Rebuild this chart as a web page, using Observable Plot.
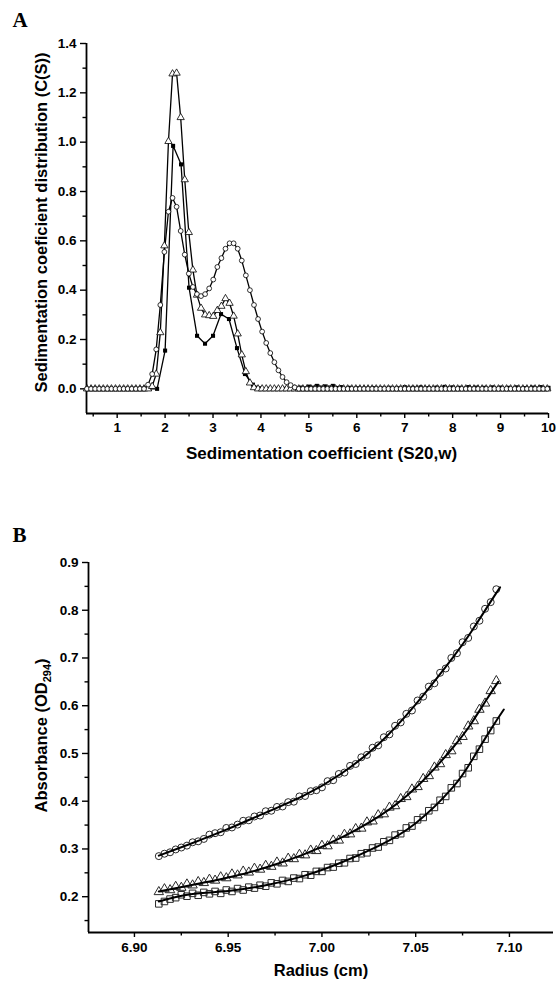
<!DOCTYPE html>
<html><head><meta charset="utf-8">
<script src="https://cdn.jsdelivr.net/npm/d3@7"></script>
<script src="https://cdn.jsdelivr.net/npm/@observablehq/plot@0.6"></script>
<style>body{margin:0;background:#fff;} svg{display:block;}</style>
</head><body><div id="a"></div><div id="b"></div>
<script>
// ---------- Panel A: c(s) distributions ----------
const sGrid = [
0.37,0.455,0.54,0.625,0.71,0.795,0.88,0.965,1.05,1.135,
1.22,1.305,1.39,1.475,1.56,1.645,1.73,1.815,1.9,1.985,
2.07,2.155,2.24,2.325,2.41,2.495,2.58,2.665,2.75,2.835,
2.92,3.005,3.09,3.175,3.26,3.345,3.43,3.515,3.6,3.685,
3.77,3.855,3.94,4.025,4.11,4.195,4.28,4.365,4.45,4.535,
4.62,4.705,4.79,4.875,4.96,5.045,5.13,5.215,5.3,5.385,
5.47,5.555,5.64,5.725,5.81,5.895,5.98,6.065,6.15,6.235,
6.32,6.405,6.49,6.575,6.66,6.745,6.83,6.915,7.0,7.085,
7.17,7.255,7.34,7.425,7.51,7.595,7.68,7.765,7.85,7.935,
8.02,8.105,8.19,8.275,8.36,8.445,8.53,8.615,8.7,8.785,
8.87,8.955,9.04,9.125,9.21,9.295,9.38,9.465,9.55,9.635,
9.72,9.805,9.89,9.975];
const triA = [
0,0,0,0,0,0,0,0,0,0,
0,0,0,0,0,0,0.01,0.06,0.228,0.58,
1.003,1.277,1.28,1.10,0.848,0.634,0.482,0.38,0.327,0.30,
0.297,0.294,0.318,0.335,0.366,0.347,0.295,0.223,0.138,0.07,
0.024,0.005,0,0,0,0,0,0,0,0,
0,0,0,0,0,0,0,0,0,0,
0,0,0,0,0,0,0,0,0,0,
0,0,0,0,0,0,0,0,0,0,
0,0,0,0,0,0,0,0,0,0,
0,0,0,0,0,0,0,0,0,0,
0,0,0,0,0,0,0,0,0,0,
0,0,0,0];
const circA = [
0,0,0,0,0,0,0,0,0,0,
0,0,0,0,0,0.017,0.06,0.16,0.34,0.555,
0.718,0.774,0.738,0.64,0.544,0.467,0.413,0.384,0.376,0.384,
0.407,0.443,0.494,0.53,0.568,0.59,0.59,0.568,0.52,0.46,
0.40,0.34,0.283,0.232,0.186,0.145,0.108,0.075,0.048,0.027,
0.015,0.006,0,0,0,0,0,0,0,0,
0,0,0,0,0,0,0,0,0,0,
0,0,0,0,0,0,0,0,0,0,
0,0,0,0,0,0,0,0,0,0,
0,0,0,0,0,0,0,0,0,0,
0,0,0,0,0,0,0,0,0,0,
0,0,0,0];
const sqGrid = [
0.5,0.667,0.833,1.0,1.167,1.333,1.5,1.667,1.833,2.0,
2.167,2.333,2.5,2.667,2.833,3.0,3.167,3.333,3.5,3.667,
3.833,4.0,4.167,4.333,4.5,4.667,4.833,5.0,5.167,5.333,
5.5,5.667,5.833,6.0,6.167,6.333,6.5,6.667,6.833,7.0,
7.167,7.333,7.5,7.667,7.833,8.0,8.167,8.333,8.5,8.667,
8.833,9.0,9.167,9.333,9.5,9.667,9.833,10.0];
const sqA = [
0,0,0,0,0,0,0,0,0,0.155,
0.985,0.91,0.41,0.215,0.183,0.215,0.303,0.283,0.165,0.06,
0.017,0.002,0,0,0,0.003,0.005,0.009,0.012,0.01,
0.012,0.007,0.004,0.002,0,0.003,0.002,0.004,0.003,0.007,
0.004,0.006,0.003,0.005,0.008,0.006,0.004,0.007,0.005,0.004,
0.006,0.005,0.004,0.006,0.003,0.005,0.007,0.004];
const xMajorA = [1,2,3,4,5,6,7,8,9,10];
const xMinorA = [0.5,1.5,2.5,3.5,4.5,5.5,6.5,7.5,8.5,9.5];
const yMajorA = [0,0.2,0.4,0.6,0.8,1.0,1.2,1.4];
const yMinorA = [0.1,0.3,0.5,0.7,0.9,1.1,1.3];

// ---------- Panel B: absorbance scans ----------
const rB = [
6.913,6.916,6.919,6.922,6.925,6.928,6.931,6.934,6.937,6.940,
6.943,6.946,6.949,6.952,6.955,6.958,6.961,6.964,6.967,6.970,
6.973,6.976,6.979,6.982,6.985,6.988,6.991,6.994,6.997,7.000,
7.003,7.006,7.009,7.012,7.015,7.018,7.021,7.024,7.027,7.030,
7.033,7.036,7.039,7.042,7.045,7.048,7.051,7.054,7.057,7.060,
7.063,7.066,7.069,7.072,7.075,7.078,7.081,7.084,7.087,7.090,
7.093];
const circB = [
.285,.290,.293,.299,.303,.307,.314,.316,.321,.330,
.333,.335,.344,.345,.351,.359,.360,.368,.370,.379,
.380,.388,.389,.398,.399,.410,.411,.421,.423,.429,
.442,.444,.457,.460,.474,.478,.492,.497,.512,.517,
.534,.540,.558,.565,.583,.590,.611,.619,.640,.647,
.669,.678,.700,.710,.733,.742,.766,.778,.803,.817,
.844];
const triB = [
.210,.216,.214,.221,.219,.226,.224,.231,.229,.236,
.234,.241,.239,.247,.245,.253,.251,.259,.257,.265,
.263,.272,.270,.280,.279,.288,.287,.297,.296,.307,
.306,.318,.318,.330,.331,.342,.343,.356,.358,.371,
.373,.387,.390,.405,.409,.425,.430,.447,.453,.471,
.478,.497,.505,.526,.535,.557,.568,.592,.605,.631,
.652];
const sqB = [
.185,.190,.195,.198,.204,.201,.207,.203,.209,.206,
.211,.207,.214,.211,.217,.214,.220,.218,.224,.222,
.229,.227,.234,.232,.239,.238,.246,.245,.253,.253,
.261,.262,.270,.271,.280,.281,.290,.292,.302,.304,
.315,.318,.329,.332,.344,.348,.361,.366,.380,.387,
.402,.410,.428,.437,.458,.470,.494,.509,.530,.548,
.568];
const fitCircR = [6.913,6.93,6.95,6.97,6.99,7.01,7.03,7.05,7.07,7.08,7.09,7.095];
const fitCirc  = [.286,.311,.342,.376,.411,.457,.519,.603,.702,.757,.818,.848];
const fitTriR  = [6.913,6.93,6.95,6.97,6.99,7.01,7.03,7.05,7.07,7.08,7.088,7.094];
const fitTri   = [.211,.224,.240,.261,.288,.323,.367,.428,.513,.565,.614,.650];
const fitSqR   = [6.913,6.93,6.95,6.97,6.99,7.01,7.03,7.05,7.07,7.08,7.09,7.097];
const fitSq    = [.190,.205,.212,.224,.243,.271,.306,.354,.430,.486,.550,.592];
const xMajorB = [6.90,6.95,7.00,7.05,7.10];
const xMinorB = [6.925,6.975,7.025,7.075];
const yMajorB = [0.2,0.3,0.4,0.5,0.6,0.7,0.8,0.9];
const yMinorB = [0.15,0.25,0.35,0.45,0.55,0.65,0.75,0.85];

const font = "'Liberation Sans', Arial, Helvetica, sans-serif";
const serif = "'Liberation Serif', 'Times New Roman', serif";
const pair = (xs, ys) => xs.map((x, i) => ({x, y: ys[i]})).filter(d => d.y != null);

const tri = pair(sGrid, triA), cir = pair(sGrid, circA), sq = pair(sqGrid, sqA);

const chartA = Plot.plot({
  width: 556, height: 490,
  marginLeft: 86, marginRight: 8, marginTop: 43, marginBottom: 77,
  x: {domain: [0.36, 10]},
  y: {domain: [-0.1, 1.4]},
  style: {fontFamily: font, background: "white", color: "black", overflow: "visible"},
  marks: [
    Plot.axisY(yMajorA, {tickSize: 6, tickPadding: 4, tickFormat: d3.format(".1f"), fontSize: 13.5, fontWeight: "bold", label: null, strokeWidth: 1.4}),
    Plot.axisY(yMinorA, {tickSize: 3.5, fill: "none", label: null, strokeWidth: 1.4}),
    Plot.axisX(xMajorA, {tickSize: 5, tickPadding: 4, tickFormat: d => String(d), fontSize: 13.5, fontWeight: "bold", label: null, strokeWidth: 1.4}),
    Plot.axisX(xMinorA, {tickSize: 3.5, fill: "none", label: null, strokeWidth: 1.4}),
    Plot.ruleX([0.36], {strokeWidth: 1.8}),
    Plot.ruleY([-0.1], {strokeWidth: 1.8}),
    Plot.line(sq, {x: "x", y: "y", stroke: "black", strokeWidth: 1.3}),
    Plot.line(tri, {x: "x", y: "y", stroke: "black", strokeWidth: 1.3}),
    Plot.line(cir, {x: "x", y: "y", stroke: "black", strokeWidth: 1.3}),
    Plot.dot(sq, {x: "x", y: "y", symbol: "square", r: 2.3, fill: "black", stroke: "none"}),
    Plot.dot(tri, {x: "x", y: "y", symbol: "triangle", r: 2.7, fill: "white", stroke: "black", strokeWidth: 0.8}),
    Plot.dot(cir, {x: "x", y: "y", symbol: "circle", r: 2.4, fill: "white", stroke: "black", strokeWidth: 0.8}),
    Plot.text(["Sedimentation coefficient (S20,w)"], {frameAnchor: "bottom", dy: 40, dx: 4, lineAnchor: "middle", fontSize: 17, fontWeight: "bold"}),
    Plot.text(["Sedimentation coeficient distribution (C(S))"], {frameAnchor: "left", dx: -45, dy: -6, rotate: -90, textAnchor: "middle", lineAnchor: "middle", fontSize: 16.5, fontWeight: "bold"}),
    Plot.text(["A"], {frameAnchor: "top-left", dx: -74, dy: -23, textAnchor: "start", lineAnchor: "middle", fontFamily: serif, fontSize: 21, fontWeight: "bold"})
  ]
});
document.getElementById("a").appendChild(chartA);

const cB = pair(rB, circB), tB = pair(rB, triB), sB = pair(rB, sqB);
const fc = pair(fitCircR, fitCirc), ft = pair(fitTriR, fitTri), fs = pair(fitSqR, fitSq);

const chartB = Plot.plot({
  width: 556, height: 492,
  marginLeft: 88, marginRight: 3, marginTop: 72, marginBottom: 50,
  x: {domain: [6.8755, 7.1235]},
  y: {domain: [0.125, 0.9]},
  style: {fontFamily: font, background: "white", color: "black", overflow: "visible"},
  marks: [
    Plot.axisY(yMajorB, {tickSize: 6, tickPadding: 4, tickFormat: d3.format(".1f"), fontSize: 13.5, fontWeight: "bold", label: null, strokeWidth: 1.4}),
    Plot.axisY(yMinorB, {tickSize: 3.5, fill: "none", label: null, strokeWidth: 1.4}),
    Plot.axisX(xMajorB, {tickSize: 5, tickPadding: 5, tickFormat: d3.format(".2f"), fontSize: 13.5, fontWeight: "bold", label: null, strokeWidth: 1.4}),
    Plot.axisX(xMinorB, {tickSize: 3.5, fill: "none", label: null, strokeWidth: 1.4}),
    Plot.ruleX([6.8755], {strokeWidth: 1.8}),
    Plot.ruleY([0.125], {strokeWidth: 1.8}),
    Plot.dot(cB, {x: "x", y: "y", symbol: "circle", r: 3.5, fill: "none", stroke: "#2a2a2a", strokeWidth: 1}),
    Plot.dot(tB, {x: "x", y: "y", symbol: "triangle", r: 3.5, fill: "none", stroke: "#2a2a2a", strokeWidth: 1}),
    Plot.dot(sB, {x: "x", y: "y", symbol: "square", r: 3.7, fill: "none", stroke: "#2a2a2a", strokeWidth: 1}),
    Plot.line(fc, {x: "x", y: "y", stroke: "black", strokeWidth: 2, curve: "natural"}),
    Plot.line(ft, {x: "x", y: "y", stroke: "black", strokeWidth: 2, curve: "natural"}),
    Plot.line(fs, {x: "x", y: "y", stroke: "black", strokeWidth: 2, curve: "natural"}),
    Plot.text(["Radius (cm)"], {frameAnchor: "bottom", dy: 38, lineAnchor: "middle", fontSize: 16.5, fontWeight: "bold"}),
    Plot.text(["Absorbance (OD294)"], {frameAnchor: "left", dx: -47, dy: -12, rotate: -90, textAnchor: "middle", lineAnchor: "middle", fontSize: 16.5, fontWeight: "bold"}),
    Plot.text(["B"], {frameAnchor: "top-left", dx: -76, dy: -27, textAnchor: "start", lineAnchor: "middle", fontFamily: serif, fontSize: 21, fontWeight: "bold"})
  ]
});
document.getElementById("b").appendChild(chartB);

// subscript for OD294
const lab = Array.from(chartB.querySelectorAll("text")).find(e => e.textContent === "Absorbance (OD294)");
if (lab) {
  lab.textContent = "";
  const ns = "http://www.w3.org/2000/svg";
  const t1 = document.createElementNS(ns, "tspan"); t1.textContent = "Absorbance (OD";
  const t2 = document.createElementNS(ns, "tspan"); t2.textContent = "294"; t2.setAttribute("font-size", "11"); t2.setAttribute("dy", "4");
  const t3 = document.createElementNS(ns, "tspan"); t3.textContent = ")"; t3.setAttribute("dy", "-4");
  lab.append(t1, t2, t3);
}
</script></body></html>
